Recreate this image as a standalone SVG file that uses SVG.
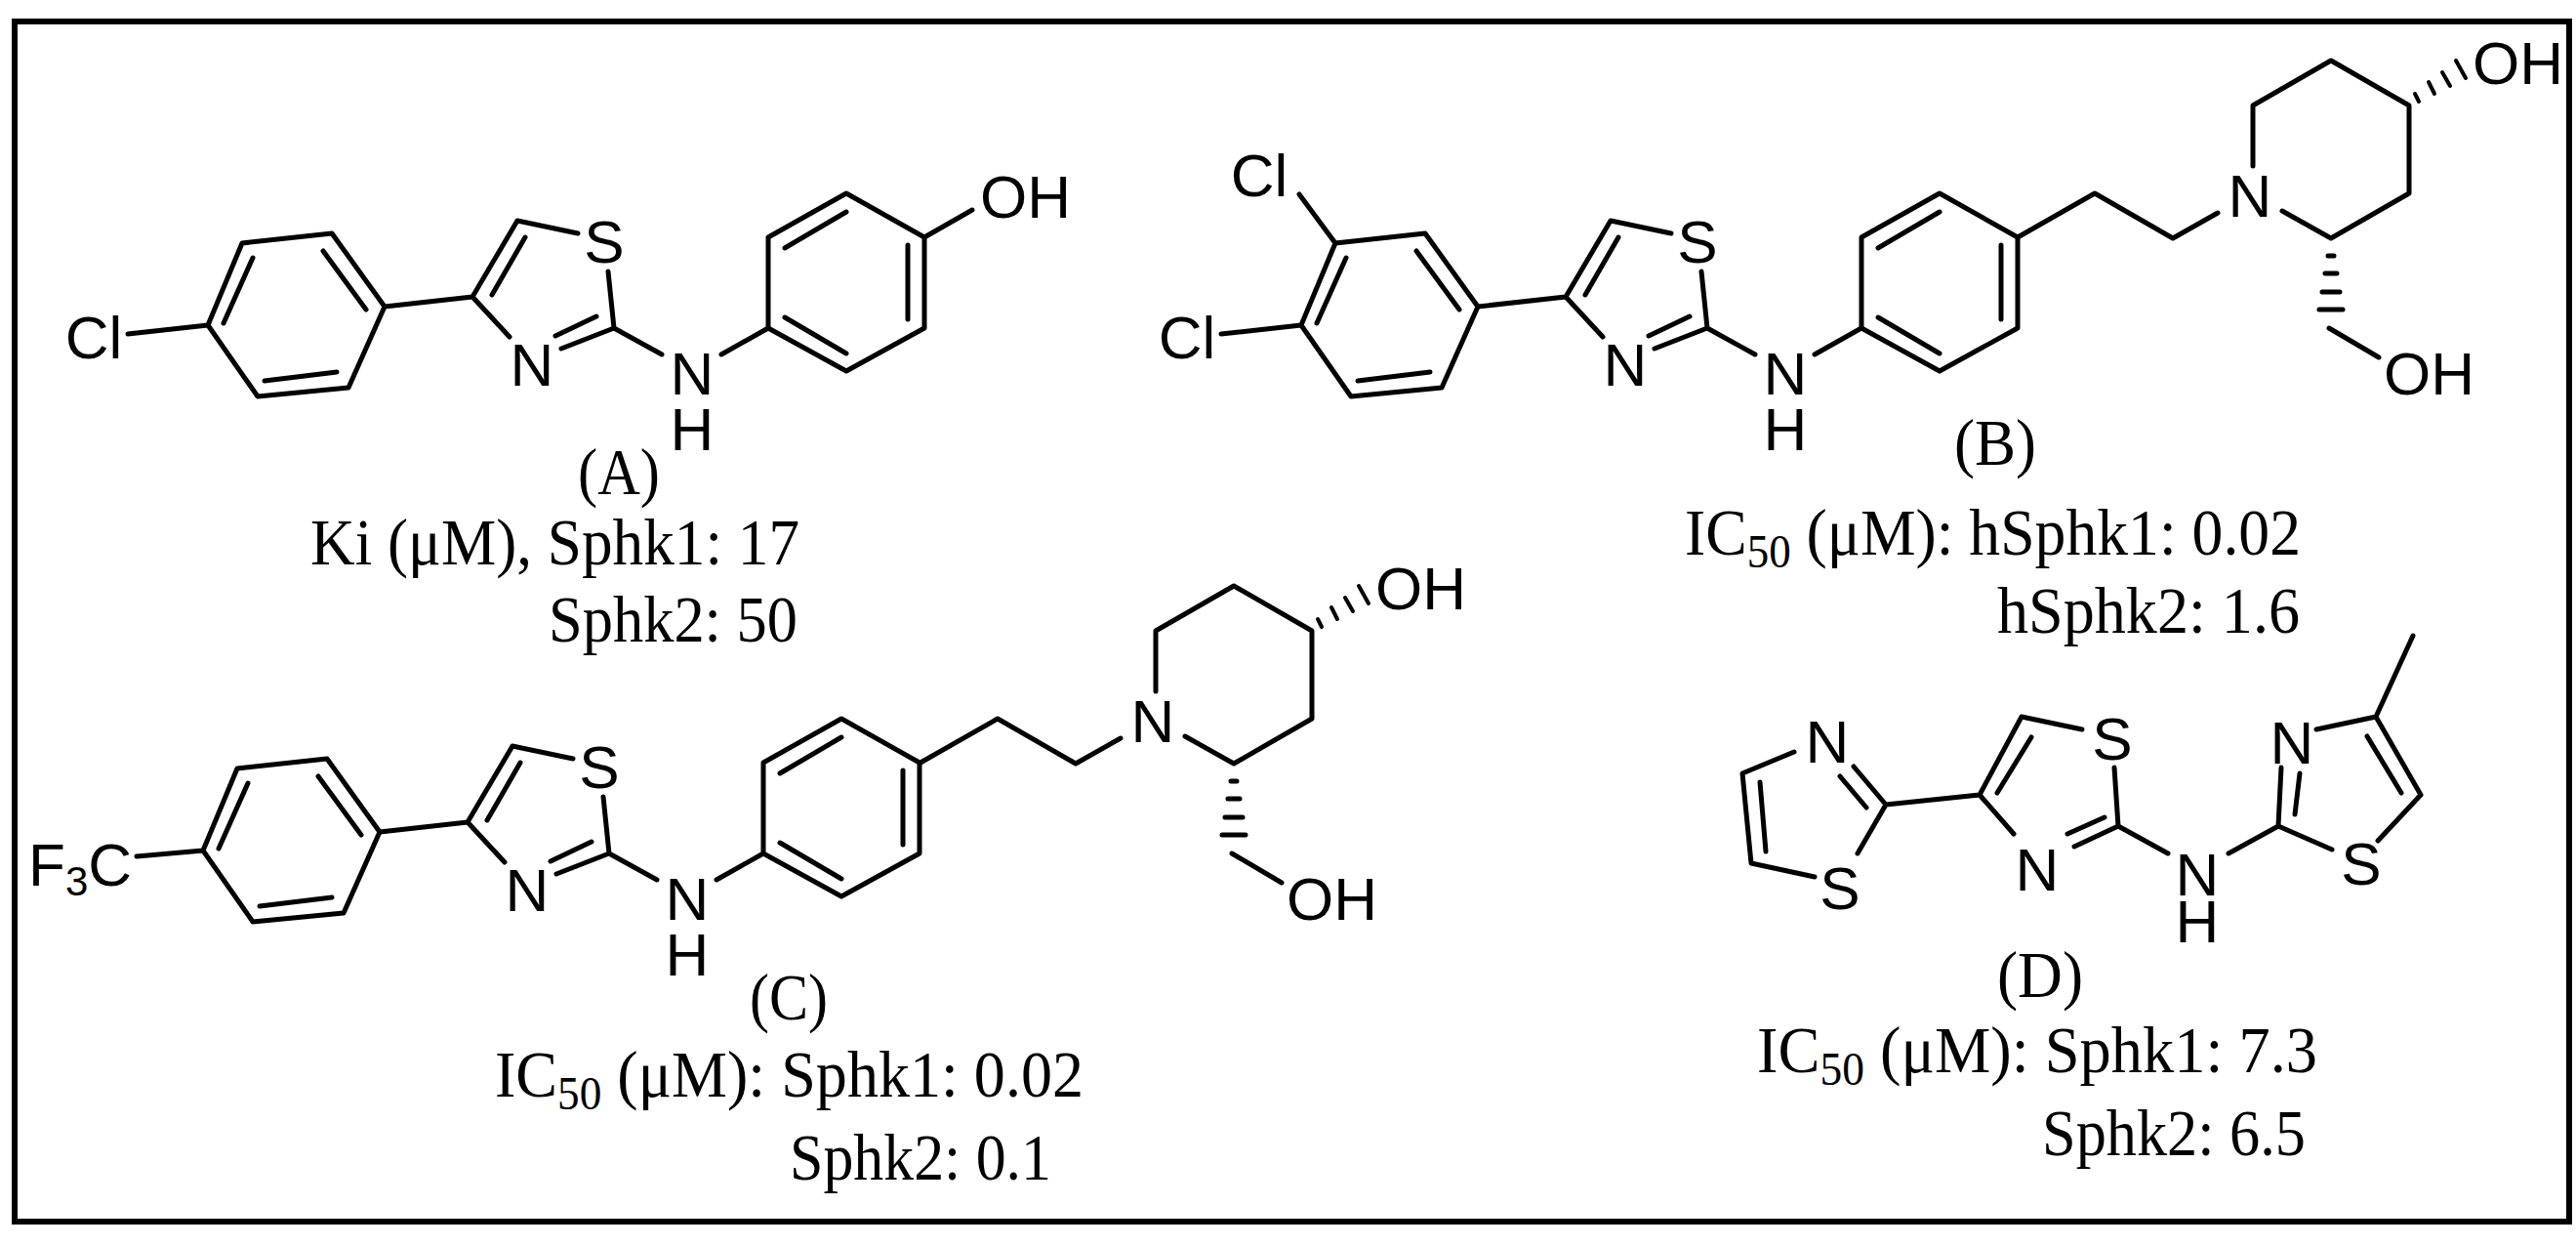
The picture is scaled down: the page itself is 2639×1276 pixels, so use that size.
<svg xmlns="http://www.w3.org/2000/svg" xmlns:xlink="http://www.w3.org/1999/xlink" width="2639" height="1276" viewBox="0 0 2639 1276">
<style>
.b{stroke:#000;stroke-width:5;fill:none;stroke-linecap:round;stroke-linejoin:round}
.a{font-family:"Liberation Sans",Arial,sans-serif;font-size:62px;fill:#000}
.m{text-anchor:middle}
.c{font-family:"Liberation Serif","Times New Roman",serif;font-size:68px;fill:#000}
.s{font-size:48px}
.t{font-size:42px}
</style>
<defs>
<g id="core" class="b">
<polygon points="213,333 248,249 340,239 394,314 357,397 264,406"/>
<path d="M229,331L259,264M331,257L375,317M271,390L345,381M394,314L484,304M484,304L530,226L592,239M623,278L629,336L575,357M611,324L569,344M484,304L522,345M504,302L538,243M629,336L678,363M739,363L787,336"/>
<polygon points="787,336 787,243 867,198 947,243 947,336 867,380"/>
<path d="M804,254L867,217M930,251L930,327M804,325L867,362"/>
</g>
<g id="pip" class="b">
<path d="M2067,243L2146,198L2226,244L2272,218M2308,170L2308,108L2388,62L2468,108L2468,198L2388,244L2338,216M2386,336L2437,366"/>
<path d="M2478,104L2474,96M2494,96L2488,84M2510,88L2502,74M2526,80L2516,62" stroke-width="4"/>
<path d="M2385,262H2391M2382,280H2394M2379,299H2397M2376,317H2400" stroke-width="5"/>
</g>
</defs>
<rect x="15" y="22" width="2617" height="1229" fill="none" stroke="#000" stroke-width="6"/>

<g id="compoundA">
<use xlink:href="#core"/>
<path class="b" d="M131,342L213,333M947,243L996,215"/>
<text class="a m" x="96" y="367">Cl</text>
<text class="a m" x="619" y="269">S</text>
<text class="a m" x="545" y="395">N</text>
<text class="a m" x="709" y="404">N</text>
<text class="a m" x="709" y="461">H</text>
<text class="a" x="1004" y="223">OH</text>
<text class="c m" x="634" y="506" textLength="84" lengthAdjust="spacingAndGlyphs">(A)</text>
<text class="c" x="318" y="578" textLength="501" lengthAdjust="spacingAndGlyphs">Ki (μM), Sphk1: 17</text>
<text class="c" x="562" y="657" textLength="255" lengthAdjust="spacingAndGlyphs">Sphk2: 50</text>
</g>

<g id="compoundB">
<use xlink:href="#core" transform="translate(1120,0)"/>
<use xlink:href="#pip"/>
<path class="b" d="M1331,199L1368,249M1251,342L1333,333"/>
<text class="a m" x="1290" y="201">Cl</text>
<text class="a m" x="1216" y="367">Cl</text>
<text class="a m" x="1739" y="269">S</text>
<text class="a m" x="1665" y="395">N</text>
<text class="a m" x="1829" y="404">N</text>
<text class="a m" x="1829" y="461">H</text>
<text class="a m" x="2305" y="222">N</text>
<text class="a" x="2533" y="86">OH</text>
<text class="a" x="2442" y="404">OH</text>
<text class="c m" x="2044" y="476" textLength="84" lengthAdjust="spacingAndGlyphs">(B)</text>
<text class="c" x="1726" y="568" textLength="631" lengthAdjust="spacingAndGlyphs">IC<tspan class="s" dy="13">50</tspan><tspan dy="-13"> (μM): hSphk1: 0.02</tspan></text>
<text class="c" x="2046" y="648" textLength="310" lengthAdjust="spacingAndGlyphs">hSphk2: 1.6</text>
</g>

<g id="compoundC">
<use xlink:href="#core" transform="translate(-5,538)"/>
<use xlink:href="#pip" transform="translate(-1124,538)"/>
<path class="b" d="M140,877L208,871"/>
<text class="a" x="29" y="907">F<tspan class="t" dy="10">3</tspan><tspan dy="-10">C</tspan></text>
<text class="a m" x="614" y="807">S</text>
<text class="a m" x="540" y="933">N</text>
<text class="a m" x="704" y="942">N</text>
<text class="a m" x="704" y="999">H</text>
<text class="a m" x="1181" y="760">N</text>
<text class="a" x="1409" y="624">OH</text>
<text class="a" x="1318" y="942">OH</text>
<text class="c m" x="808" y="1044" textLength="80" lengthAdjust="spacingAndGlyphs">(C)</text>
<text class="c" x="507" y="1123" textLength="603" lengthAdjust="spacingAndGlyphs">IC<tspan class="s" dy="13">50</tspan><tspan dy="-13"> (μM): Sphk1: 0.02</tspan></text>
<text class="c" x="809" y="1208" textLength="268" lengthAdjust="spacingAndGlyphs">Sphk2: 0.1</text>
</g>

<g id="compoundD">
<path class="b" d="M1838,770L1785,792L1794,884L1859,898M1803,801L1809,872M1903,874L1932,824L1899,785M1885,795L1912,827M1932,824L2028,814L2071,734L2133,747M2166,786L2170,846L2125,867M2156,837L2118,854M2028,814L2063,854M2046,812L2081,755M2170,846L2221,874M2283,874L2334,846L2337,786M2351,834L2356,792M2373,747L2434,734L2472,651M2434,734L2480,814M2425,754L2460,812M2480,814L2436,861M2389,870L2334,846"/>
<text class="a m" x="1872" y="781">N</text>
<text class="a m" x="1885" y="931">S</text>
<text class="a m" x="2164" y="778">S</text>
<text class="a m" x="2087" y="912">N</text>
<text class="a m" x="2251" y="917">N</text>
<text class="a m" x="2251" y="965">H</text>
<text class="a m" x="2348" y="782">N</text>
<text class="a m" x="2419" y="906">S</text>
<text class="c m" x="2090" y="1021" textLength="88" lengthAdjust="spacingAndGlyphs">(D)</text>
<text class="c" x="1800" y="1098" textLength="574" lengthAdjust="spacingAndGlyphs">IC<tspan class="s" dy="13">50</tspan><tspan dy="-13"> (μM): Sphk1: 7.3</tspan></text>
<text class="c" x="2092" y="1183" textLength="270" lengthAdjust="spacingAndGlyphs">Sphk2: 6.5</text>
</g>
</svg>
